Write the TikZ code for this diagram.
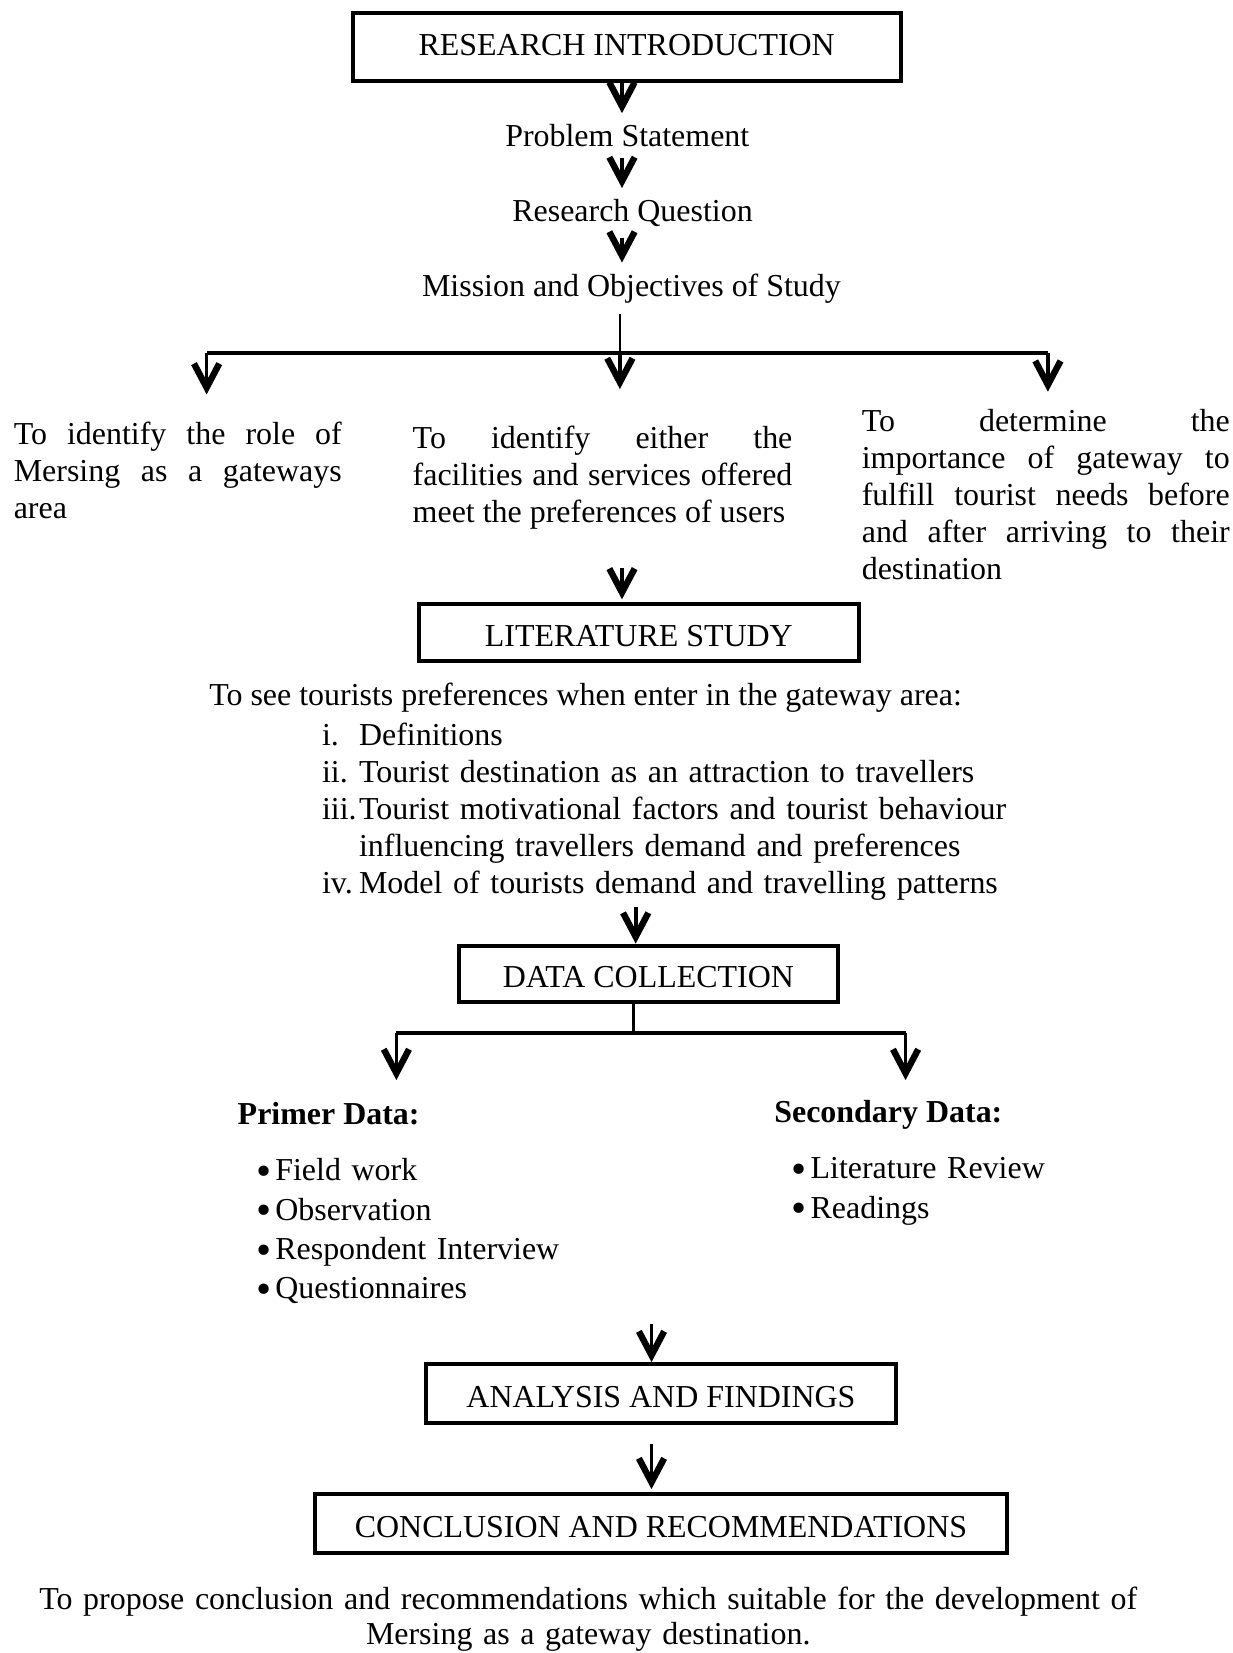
\documentclass[tikz,border=0pt]{standalone}
\usepackage{fontspec}
\usepackage{graphicx}
\setmainfont{Liberation Serif}
\usetikzlibrary{arrows.meta}
\hyphenpenalty=10000
\newcommand{\bigbullet}{\raisebox{-1.8pt}{\scalebox{1.35}{\textbullet}}}

\tikzset{
    flowbox/.style={draw, line width=1.5pt, inner sep=0pt, text height=10.4pt, text depth=0pt},
    flowarrow/.style={line width=1.4pt, -{Straight Barb[length=9pt, width=9.5pt, line width=2.4pt]}},
    forkline/.style={line width=1.5pt},
    stemline/.style={line width=1pt},
    stage/.style={inner sep=4pt, anchor=base},
    para/.style={inner sep=0pt, anchor=base west, align=justify, font=\fontsize{12}{13.9}\selectfont},
    lefttext/.style={inner sep=0pt, anchor=base west, align=left},
}

\begin{document}
\begin{tikzpicture}[x=0.396pt, y=-0.396pt, every node/.style={font=\fontsize{12}{14}\selectfont}]
    \useasboundingbox (0,0) rectangle (1169,1568);
    \coordinate (spine) at (590,0);

    % introduction
    \node[flowbox, text height=8pt, text depth=1.6pt, minimum width=205.9pt, minimum height=25.3pt] (intro) at (594.5,44.5) {RESEARCH INTRODUCTION};
    \node[stage] (prob) at (595,139) {Problem Statement};
    \node[stage] (rq) at (600,210) {Research Question};
    \node[stage] (mission) at (599,281) {Mission and Objectives of Study};
    \draw[flowarrow] (intro.south -| spine) -- (spine |- prob.north);
    \draw[flowarrow] (prob.south -| spine) -- (spine |- rq.north);
    \draw[flowarrow] (rq.south -| spine) -- (spine |- mission.north);

    % objectives
    \node[para, text width=123.2pt] (objL) at (12.6,422) {To identify the role of\linebreak Mersing as a gateways\linebreak area};
    \node[para, text width=142.6pt] (objM) at (391,425) {To identify either the\linebreak facilities and services offered\linebreak meet the preferences of users};
    \node[para, text width=138.2pt] (objR) at (817,409) {To determine the\linebreak importance of gateway to\linebreak fulfill tourist needs before\linebreak and after arriving to their\linebreak destination};
    \coordinate (forkL) at (196,335);
    \coordinate (forkM) at (588,335);
    \coordinate (forkR) at (994,335);
    \draw[stemline] (mission.south -| forkM) -- (forkM);
    \draw[forkline] (forkL) -- (forkR);
    \foreach \k/\s in {L/10.3pt, M/13.5pt, R/6.3pt}
        \draw[flowarrow, shorten >=\s] (fork\k) -- (fork\k |- obj\k.north);

    % literature
    \node[flowbox, minimum width=165.5pt, minimum height=21.4pt] (lit) at (606,600) {LITERATURE STUDY};
    \draw[flowarrow, shorten <=14.6pt, shorten >=1pt] (objM.south -| spine) -- (spine |- lit.north);
    \node[lefttext] (litaim) at (198,669) {To see tourists preferences when enter in the gateway area:};
    \node[lefttext, text width=265pt, font=\fontsize{12}{13.9}\selectfont] (litlist) at (305,707) {%
        \makebox[13.9pt][l]{i.}Definitions\\
        \makebox[13.9pt][l]{ii.}Tourist destination as an attraction to travellers\\
        \makebox[13.9pt][l]{iii.}Tourist motivational factors and tourist behaviour\\
        \hspace*{13.9pt}influencing travellers demand and preferences\\
        \makebox[13.9pt][l]{iv.}Model of tourists demand and travelling patterns};

    % data collection
    \coordinate (dspine) at (603,0);
    \node[flowbox, minimum width=142.6pt, minimum height=21pt] (dcoll) at (615,923.5) {DATA COLLECTION};
    \draw[flowarrow, shorten <=2.4pt] (litlist.south -| dspine) -- (dspine |- dcoll.north);
    \coordinate (dforkL) at (376,980);
    \coordinate (dforkM) at (601,980);
    \coordinate (dforkR) at (859,980);
    \draw[stemline] (dcoll.south -| dforkM) -- (dforkM);
    \draw[forkline] (dforkL) -- (dforkR);
    \node[lefttext, font=\fontsize{12}{14}\selectfont\bfseries] (primer) at (225,1067) {Primer Data:};
    \node[lefttext, font=\fontsize{12}{14}\selectfont\bfseries] (secondary) at (734,1065) {Secondary Data:};
    \draw[flowarrow, shorten >=8.3pt] (dforkL) -- (dforkL |- primer.north);
    \draw[flowarrow, shorten >=7.5pt] (dforkR) -- (dforkR |- secondary.north);
    \node[lefttext, text width=120pt, font=\fontsize{12}{14.8}\selectfont] (primlist) at (243,1120) {%
        \makebox[7pt][l]{\bigbullet}Field work\\
        \makebox[7pt][l]{\bigbullet}Observation\\
        \makebox[7pt][l]{\bigbullet}Respondent Interview\\
        \makebox[7pt][l]{\bigbullet}Questionnaires};
    \node[lefttext, text width=120pt, font=\fontsize{12}{14.8}\selectfont] (seclist) at (750,1118) {%
        \makebox[7.3pt][l]{\bigbullet}Literature Review\\
        \makebox[7.3pt][l]{\bigbullet}Readings};

    % analysis and conclusion
    \coordinate (anaspine) at (618,1256);
    \node[flowbox, minimum width=176.6pt, minimum height=22.2pt] (ana) at (627,1322) {ANALYSIS AND FINDINGS};
    \node[flowbox, minimum width=259.8pt, minimum height=22.2pt] (concl) at (627,1445) {CONCLUSION AND RECOMMENDATIONS};
    \draw[flowarrow] (anaspine) -- (anaspine |- ana.north);
    \draw[flowarrow, shorten <=7pt, shorten >=1pt] (ana.south -| anaspine) -- (anaspine |- concl.north);
    \node[inner sep=0pt, anchor=base, align=center, text width=420pt, font=\fontsize{12}{13.1}\selectfont] (aim) at (558,1527) {To propose conclusion and recommendations which suitable for the development of\\ Mersing as a gateway destination.};
\end{tikzpicture}
\end{document}
